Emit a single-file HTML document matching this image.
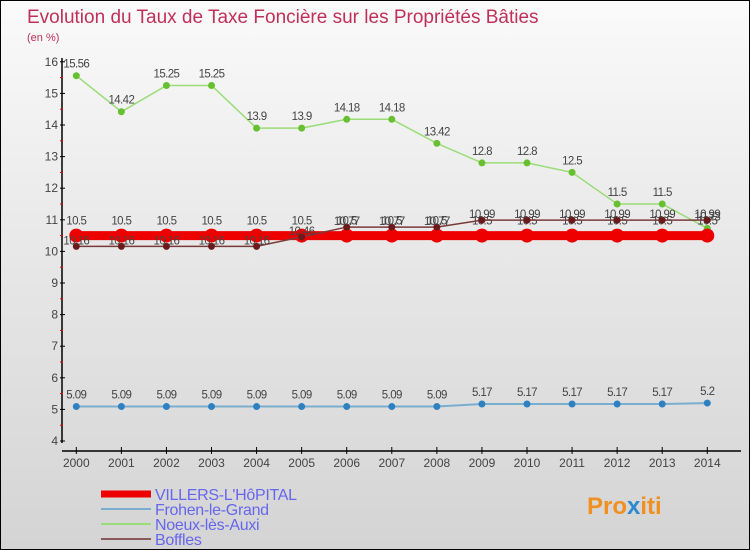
<!DOCTYPE html>
<html><head><meta charset="utf-8"><style>
body{margin:0}
#c{width:750px;height:550px;position:relative;background:linear-gradient(#fafafa,#e6e6e6 50%,#d4d4d4);box-sizing:border-box;border:1px solid #000;overflow:hidden;font-family:"Liberation Sans",sans-serif}
svg text{font-family:"Liberation Sans",sans-serif}
</style></head><body>
<div id="c">
<svg id="s" width="750" height="550">
<text x="26" y="22" font-size="19" fill="#c0305a">Evolution du Taux de Taxe Foncière sur les Propriétés Bâties</text>
<text x="26" y="40" font-size="11" fill="#c0305a">(en %)</text>
<g id="axes"></g><g id="series"></g><g id="legend"></g>
<text x="586" y="513" font-size="24" font-weight="bold" fill="#f09020">Pro<tspan fill="#2a8ad0">x</tspan>iti</text>
</svg></div>
<script>
const years=[2000,2001,2002,2003,2004,2005,2006,2007,2008,2009,2010,2011,2012,2013,2014];
const villers=[10.5,10.5,10.5,10.5,10.5,10.5,10.5,10.5,10.5,10.5,10.5,10.5,10.5,10.5,10.5];
const frohen=[5.09,5.09,5.09,5.09,5.09,5.09,5.09,5.09,5.09,5.17,5.17,5.17,5.17,5.17,5.2];
const noeux=[15.56,14.42,15.25,15.25,13.9,13.9,14.18,14.18,13.42,12.8,12.8,12.5,11.5,11.5,10.73];
const boffles=[10.16,10.16,10.16,10.16,10.16,10.46,10.77,10.77,10.77,10.99,10.99,10.99,10.99,10.99,10.99];
const yTicks=[4,5,6,7,8,9,10,11,12,13,14,15,16];
const NS='http://www.w3.org/2000/svg';
const x=i=>75.3+i*45.07, y=v=>440-(v-4)*31.6;
function mk(p,t,a){const e=document.createElementNS(NS,t);for(const k in a)e.setAttribute(k,a[k]);p.appendChild(e);return e;}
const ax=document.getElementById('axes');
let l=mk(ax,'line',{x1:61,y1:57,x2:61,y2:442,stroke:'#000','stroke-width':1.5});

l=mk(ax,'line',{x1:61,y1:450,x2:740,y2:450,stroke:'#000','stroke-width':1.5});

yTicks.forEach(v=>{mk(ax,'line',{x1:59,y1:y(v),x2:64,y2:y(v),stroke:'#000'});
if(v<16)mk(ax,'line',{x1:59,y1:y(v+0.5),x2:62,y2:y(v+0.5),stroke:'#e00'});
const t=mk(ax,'text',{x:57,y:y(v)+4,'font-size':12,fill:'#444','text-anchor':'end'});t.textContent=v;
});
years.forEach((yr,i)=>{mk(ax,'line',{x1:x(i),y1:446,x2:x(i),y2:453,stroke:'#000'});
const t=mk(ax,'text',{x:x(i),y:466,'font-size':12,fill:'#444','text-anchor':'middle'});t.textContent=yr;
});
const sg=document.getElementById('series');
function draw(vals,color,w,r,name,dot,dy){
const g=mk(sg,'g',{});
mk(g,'polyline',{points:vals.map((v,i)=>x(i)+','+y(v)).join(' '),fill:'none',stroke:color,'stroke-width':w});
vals.forEach((v,i)=>{const c=mk(g,'circle',{cx:x(i),cy:y(v),r:r,fill:dot});

const t=mk(g,'text',{x:x(i),y:y(v)+dy,'font-size':11.5,fill:'#444','text-anchor':'middle','letter-spacing':'-0.6'});t.textContent=v;
});}
draw(frohen,'#7aaed0',2,3.5,'frohen-series','#2f80c0',-8);
draw(noeux,'#99dd77',1.5,3.5,'noeux-series','#66c030',-8);
draw(villers,'#ee0000',9,7,'villers-series','#ee0000',-11);
draw(boffles,'#7a3a3a',1.5,3.5,'boffles-series','#6a1a1a',12-8+ -6);
const lg=document.getElementById('legend');
[['VILLERS-L\'HôPITAL','#ee0000',7],['Frohen-le-Grand','#7aaed0',2],['Noeux-lès-Auxi','#99dd77',2],['Boffles','#8a5a5a',2]].forEach((d,i)=>{
const yy=493+i*15;const g=mk(lg,'g',{});
mk(g,'line',{x1:100,y1:yy,x2:150,y2:yy,stroke:d[1],'stroke-width':d[2]});
const t=mk(g,'text',{x:154,y:yy+6,'font-size':16,fill:'#6666ee','letter-spacing':'-0.3'});t.textContent=d[0];});
</script>
</body></html>
